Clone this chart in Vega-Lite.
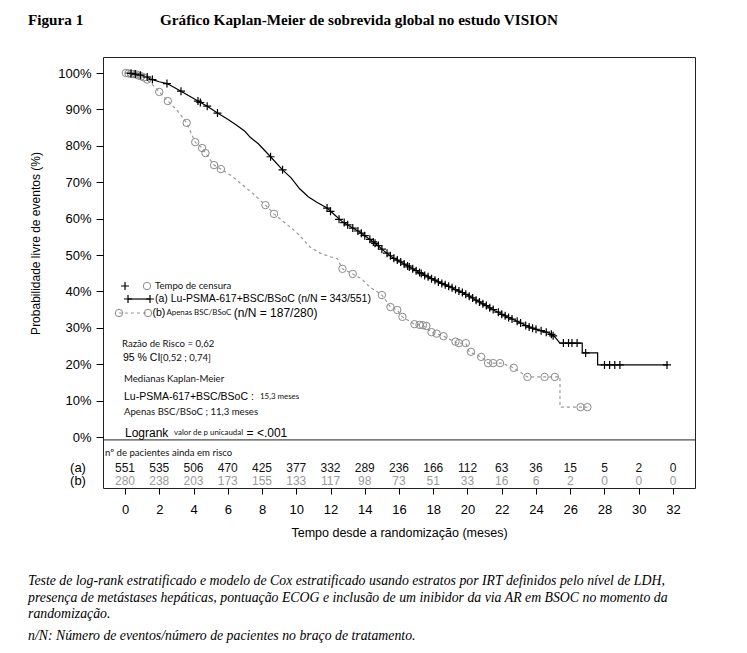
{
  "$schema": "https://vega.github.io/schema/vega-lite/v6.json",
  "width": 592,
  "height": 431,
  "autosize": {"type": "none"},
  "padding": {"left": 103, "top": 57, "right": 52, "bottom": 165},
  "background": "#ffffff",
  "config": {
    "view": {"stroke": "#222222", "strokeWidth": 1},
    "axis": {"grid": false, "domain": false, "tickColor": "#000000", "labelColor": "#000000", "titleColor": "#000000", "labelFont": "Liberation Sans", "titleFont": "Liberation Sans", "titleFontWeight": "normal", "labelOverlap": false},
    "text": {"align": "left", "baseline": "middle"}
  },
  "datasets": {
    "km_a": [
      {"i":1,"x":0,"y":1.0},{"i":2,"x":0.3,"y":0.999},{"i":3,"x":0.8,"y":0.995},{"i":4,"x":1.2,"y":0.99},{"i":5,"x":1.6,"y":0.982},{"i":6,"x":2.0,"y":0.976},{"i":7,"x":2.45,"y":0.971},{"i":8,"x":2.8,"y":0.962},{"i":9,"x":3.27,"y":0.95},{"i":10,"x":3.7,"y":0.938},{"i":11,"x":4.26,"y":0.923},{"i":12,"x":4.8,"y":0.909},{"i":13,"x":5.4,"y":0.89},{"i":14,"x":6.0,"y":0.873},{"i":15,"x":6.5,"y":0.857},{"i":16,"x":7.0,"y":0.84},{"i":17,"x":7.3,"y":0.824},{"i":18,"x":7.8,"y":0.805},{"i":19,"x":8.5,"y":0.77},{"i":20,"x":9.2,"y":0.734},{"i":21,"x":9.7,"y":0.712},{"i":22,"x":10.2,"y":0.682},{"i":23,"x":10.7,"y":0.66},{"i":24,"x":11.2,"y":0.645},{"i":25,"x":11.8,"y":0.629},{"i":26,"x":12.2,"y":0.612},{"i":27,"x":12.7,"y":0.591},{"i":28,"x":13.2,"y":0.577},{"i":29,"x":13.7,"y":0.563},{"i":30,"x":14.2,"y":0.546},{"i":31,"x":14.7,"y":0.529},{"i":32,"x":15.1,"y":0.512},{"i":33,"x":15.6,"y":0.494},{"i":34,"x":16.2,"y":0.478},{"i":35,"x":16.8,"y":0.462},{"i":36,"x":17.4,"y":0.447},{"i":37,"x":18.0,"y":0.433},{"i":38,"x":18.5,"y":0.422},{"i":39,"x":19.0,"y":0.412},{"i":40,"x":19.5,"y":0.401},{"i":41,"x":20.0,"y":0.39},{"i":42,"x":20.5,"y":0.376},{"i":43,"x":21.1,"y":0.361},{"i":44,"x":21.6,"y":0.347},{"i":45,"x":22.1,"y":0.335},{"i":46,"x":22.7,"y":0.322},{"i":47,"x":23.2,"y":0.311},{"i":48,"x":23.7,"y":0.3},{"i":49,"x":24.2,"y":0.293},{"i":50,"x":24.8,"y":0.285},{"i":51,"x":25.1,"y":0.275},{"i":52,"x":25.4,"y":0.258},{"i":53,"x":26.7,"y":0.258},{"i":54,"x":26.7,"y":0.231},{"i":55,"x":27.6,"y":0.231},{"i":56,"x":27.6,"y":0.198},{"i":57,"x":31.7,"y":0.198}
    ],
    "km_b": [
      {"i":1,"x":0,"y":1.0},{"i":2,"x":0.4,"y":0.997},{"i":3,"x":0.8,"y":0.993},{"i":4,"x":1.2,"y":0.985},{"i":5,"x":1.6,"y":0.968},{"i":6,"x":2.0,"y":0.948},{"i":7,"x":2.5,"y":0.923},{"i":8,"x":3.0,"y":0.9},{"i":9,"x":3.6,"y":0.863},{"i":10,"x":4.1,"y":0.81},{"i":11,"x":4.5,"y":0.794},{"i":12,"x":4.7,"y":0.78},{"i":13,"x":5.2,"y":0.747},{"i":14,"x":5.6,"y":0.736},{"i":15,"x":6.2,"y":0.718},{"i":16,"x":6.8,"y":0.695},{"i":17,"x":7.4,"y":0.672},{"i":18,"x":8.2,"y":0.637},{"i":19,"x":8.7,"y":0.613},{"i":20,"x":9.3,"y":0.59},{"i":21,"x":10.0,"y":0.563},{"i":22,"x":10.8,"y":0.522},{"i":23,"x":11.4,"y":0.505},{"i":24,"x":12.0,"y":0.495},{"i":25,"x":12.4,"y":0.49},{"i":26,"x":12.7,"y":0.462},{"i":27,"x":13.3,"y":0.448},{"i":28,"x":13.8,"y":0.435},{"i":29,"x":14.3,"y":0.412},{"i":30,"x":15.0,"y":0.39},{"i":31,"x":15.5,"y":0.357},{"i":32,"x":15.9,"y":0.349},{"i":33,"x":16.2,"y":0.33},{"i":34,"x":16.9,"y":0.31},{"i":35,"x":17.4,"y":0.307},{"i":36,"x":17.9,"y":0.288},{"i":37,"x":18.6,"y":0.277},{"i":38,"x":19.4,"y":0.258},{"i":39,"x":19.9,"y":0.258},{"i":40,"x":20.1,"y":0.234},{"i":41,"x":20.8,"y":0.22},{"i":42,"x":21.2,"y":0.203},{"i":43,"x":22.0,"y":0.203},{"i":44,"x":22.7,"y":0.19},{"i":45,"x":23.5,"y":0.165},{"i":46,"x":25.4,"y":0.165},{"i":47,"x":25.4,"y":0.082},{"i":48,"x":27.0,"y":0.082}
    ],
    "cens_a": [
      {"x":0.35,"y":0.999},{"x":0.6,"y":0.997},{"x":0.9,"y":0.994},{"x":1.3,"y":0.989},{"x":1.6,"y":0.982},{"x":2.45,"y":0.971},{"x":3.27,"y":0.95},{"x":4.26,"y":0.923},{"x":4.4,"y":0.919},{"x":4.8,"y":0.909},{"x":5.4,"y":0.89},{"x":8.5,"y":0.77},{"x":9.2,"y":0.734},{"x":11.8,"y":0.629},{"x":12.0,"y":0.62},
      {"x":12.5,"y":0.598},{"x":12.8,"y":0.589},{"x":13.0,"y":0.583},{"x":13.3,"y":0.574},{"x":13.6,"y":0.566},{"x":13.8,"y":0.56},{"x":14.0,"y":0.553},{"x":14.3,"y":0.543},{"x":14.5,"y":0.536},{"x":14.6,"y":0.532},{"x":14.8,"y":0.526},{"x":15.0,"y":0.516},{"x":15.3,"y":0.505},{"x":15.5,"y":0.498},{"x":15.7,"y":0.491},{"x":15.9,"y":0.486},{"x":16.1,"y":0.481},{"x":16.3,"y":0.475},{"x":16.5,"y":0.47},{"x":16.6,"y":0.467},{"x":16.8,"y":0.462},{"x":17.0,"y":0.457},{"x":17.2,"y":0.452},{"x":17.3,"y":0.449},{"x":17.5,"y":0.444},{"x":17.7,"y":0.44},{"x":17.9,"y":0.435},{"x":18.1,"y":0.431},{"x":18.3,"y":0.426},{"x":18.5,"y":0.422},{"x":18.7,"y":0.418},{"x":18.9,"y":0.414},{"x":19.1,"y":0.41},{"x":19.3,"y":0.405},{"x":19.5,"y":0.401},{"x":19.7,"y":0.397},{"x":19.9,"y":0.392},{"x":20.1,"y":0.387},{"x":20.3,"y":0.382},{"x":20.5,"y":0.376},{"x":20.7,"y":0.371},{"x":20.9,"y":0.366},{"x":21.1,"y":0.361},{"x":21.3,"y":0.355},{"x":21.5,"y":0.35},{"x":21.8,"y":0.343},{"x":22.0,"y":0.337},{"x":22.2,"y":0.333},{"x":22.4,"y":0.328},{"x":22.6,"y":0.324},{"x":22.9,"y":0.318},{"x":23.1,"y":0.313},{"x":23.4,"y":0.306},{"x":23.6,"y":0.302},{"x":23.8,"y":0.299},{"x":24.0,"y":0.296},{"x":24.3,"y":0.292},{"x":24.6,"y":0.288},{"x":24.9,"y":0.282},{"x":25.0,"y":0.278},{"x":25.6,"y":0.258},{"x":25.9,"y":0.258},{"x":26.1,"y":0.258},{"x":26.4,"y":0.258},{"x":26.9,"y":0.231},{"x":28.0,"y":0.198},{"x":28.3,"y":0.198},{"x":28.6,"y":0.198},{"x":28.9,"y":0.198},{"x":31.65,"y":0.198}
    ],
    "cens_b": [
      {"x":0.05,"y":1.0},{"x":0.2,"y":0.999},{"x":0.35,"y":0.998},{"x":0.5,"y":0.997},{"x":0.65,"y":0.996},{"x":0.8,"y":0.993},{"x":0.95,"y":0.991},{"x":1.1,"y":0.988},{"x":1.3,"y":0.982},{"x":2.0,"y":0.948},{"x":2.5,"y":0.923},{"x":3.6,"y":0.863},{"x":4.1,"y":0.81},{"x":4.5,"y":0.794},{"x":4.7,"y":0.78},{"x":5.2,"y":0.747},{"x":5.6,"y":0.736},{"x":8.2,"y":0.637},{"x":8.7,"y":0.613},{"x":12.7,"y":0.462},{"x":13.3,"y":0.448},{"x":15.0,"y":0.39},{"x":15.5,"y":0.357},{"x":15.9,"y":0.349},{"x":16.2,"y":0.33},{"x":16.9,"y":0.31},{"x":17.2,"y":0.308},{"x":17.4,"y":0.307},{"x":17.6,"y":0.305},{"x":17.9,"y":0.288},{"x":18.2,"y":0.284},{"x":18.6,"y":0.277},{"x":19.3,"y":0.262},{"x":19.5,"y":0.258},{"x":19.9,"y":0.258},{"x":20.2,"y":0.234},{"x":20.8,"y":0.22},{"x":21.2,"y":0.203},{"x":21.5,"y":0.203},{"x":21.9,"y":0.203},{"x":22.7,"y":0.19},{"x":23.5,"y":0.165},{"x":24.5,"y":0.165},{"x":25.1,"y":0.165},{"x":26.6,"y":0.082},{"x":27.0,"y":0.082}
    ],
    "leg_plus": [{"x":0.0,"y":0.4148},{"x":0.175,"y":0.3791},{"x":1.46,"y":0.3791}],
    "leg_circ": [{"x":1.285,"y":0.4148},{"x":-0.35,"y":0.3407},{"x":1.343,"y":0.3407}],
    "leg_line_a": [{"i":1,"x":0.175,"y":0.3791},{"i":2,"x":1.46,"y":0.3791}],
    "leg_line_b": [{"i":1,"x":-0.35,"y":0.3407},{"i":2,"x":1.343,"y":0.3407}],
    "sep": [{"y":-0.008}],
    "risk": [
      {"x":0,"a":551,"b":280},{"x":2,"a":535,"b":238},{"x":4,"a":506,"b":203},{"x":6,"a":470,"b":173},{"x":8,"a":425,"b":155},{"x":10,"a":377,"b":133},{"x":12,"a":332,"b":117},{"x":14,"a":289,"b":98},{"x":16,"a":236,"b":73},{"x":18,"a":166,"b":51},{"x":20,"a":112,"b":33},{"x":22,"a":63,"b":16},{"x":24,"a":36,"b":6},{"x":26,"a":15,"b":2},{"x":28,"a":5,"b":0},{"x":30,"a":2,"b":0},{"x":32,"a":0,"b":0}
    ],
    "risk_lab": [{"x":-2.745,"y":-0.084,"txt":"(a)"},{"x":-2.745,"y":-0.122,"txt":"(b)"}],
    "title_txt": [
      {"x":-5.664,"y":1.1456,"txt":"Figura 1"},
      {"x":2.044,"y":1.1456,"txt":"Gráfico Kaplan-Meier de sobrevida global no estudo VISION"}
    ],
    "foot_txt": [
      {"x":-5.664,"y":-0.3956,"txt":"Teste de log-rank estratificado e modelo de Cox estratificado usando estratos por IRT definidos pelo nível de LDH,"},
      {"x":-5.664,"y":-0.4423,"txt":"presença de metástases hepáticas, pontuação ECOG e inclusão de um inibidor da via AR em BSOC no momento da"},
      {"x":-5.664,"y":-0.4863,"txt":"randomização."},
      {"x":-5.664,"y":-0.5467,"txt":"n/N: Número de eventos/número de pacientes no braço de tratamento."}
    ],
    "arial_txt": [
      {"x":1.752,"y":0.3791,"txt":"(a) Lu-PSMA-617+BSC/BSoC (n/N = 343/551)"},
      {"x":1.6,"y":0.3407,"txt":"(b)"},
      {"x":-0.117,"y":0.217,"txt":"95 % CI"},
      {"x":-0.058,"y":0.1099,"txt":"Lu-PSMA-617+BSC/BSoC :"}
    ],
    "arial_big_txt": [
      {"x":6.35,"y":0.3407,"txt":"(n/N = 187/280)"},
      {"x":0.0,"y":0.011,"txt":"Logrank"},
      {"x":7.1,"y":0.011,"txt":"= <.001"}
    ],
    "cal_txt": [
      {"x":1.752,"y":0.4148,"txt":"Tempo de censura"},
      {"x":-0.175,"y":0.2555,"txt":"Razão de Risco  = 0,62"},
      {"x":2.044,"y":0.217,"txt":"[0,52 ; 0,74]"},
      {"x":-0.058,"y":0.1593,"txt":"Medianas Kaplan-Meier"},
      {"x":-0.058,"y":0.0687,"txt":"Apenas BSC/BSoC ; 11,3  meses"},
      {"x":-1.168,"y":-0.044,"txt":"nº de pacientes ainda em risco"}
    ],
    "cal_small_txt": [
      {"x":2.42,"y":0.3407,"txt":"Apenas BSC/BSoC"},
      {"x":7.883,"y":0.1099,"txt":"15,3  meses"},
      {"x":2.861,"y":0.011,"txt":"valor de p unicaudal"}
    ]
  },
  "layer": [
    {
      "data": {"name": "km_a"},
      "mark": {"type": "line", "color": "#000000", "strokeWidth": 1.2, "interpolate": "linear"},
      "encoding": {
        "x": {"field": "x", "type": "quantitative", "scale": {"domain": [-1.285, 33.285], "nice": false, "zero": false}, "title": "Tempo desde a randomização (meses)", "axis": {"values": [0,2,4,6,8,10,12,14,16,18,20,22,24,26,28,30,32], "tickCount": 17, "format": "d", "labelFontSize": 13, "tickSize": 6, "labelPadding": 9, "titleFontSize": 12.5, "titlePadding": 10, "labelOverlap": false, "labelFlush": false}},
        "y": {"field": "y", "type": "quantitative", "scale": {"domain": [-0.1401, 1.044], "nice": false, "zero": false}, "title": "Probabilidade livre de eventos (%)", "axis": {"values": [0,0.1,0.2,0.3,0.4,0.5,0.6,0.7,0.8,0.9,1.0], "format": ".0%", "labelFontSize": 13, "tickSize": 7, "labelPadding": 5, "titleFontSize": 12, "titleX": -68, "titleY": 186, "titleBaseline": "middle", "titleAngle": -90, "labelOverlap": false}},
        "order": {"field": "i", "type": "quantitative"}
      }
    },
    {
      "data": {"name": "sep"},
      "mark": {"type": "rule", "color": "#222222", "strokeWidth": 1},
      "encoding": {
        "y": {"field": "y", "type": "quantitative", "scale": {"domain": [-0.1401, 1.044], "nice": false, "zero": false}, "title": "Probabilidade livre de eventos (%)"}
      }
    },
    {
      "data": {"name": "km_b"},
      "mark": {"type": "line", "color": "#9a9a9a", "strokeWidth": 1.2, "strokeDash": [3, 3], "interpolate": "linear"},
      "encoding": {
        "x": {"field": "x", "type": "quantitative", "scale": {"domain": [-1.285, 33.285], "nice": false, "zero": false}, "title": "Tempo desde a randomização (meses)"},
        "y": {"field": "y", "type": "quantitative", "scale": {"domain": [-0.1401, 1.044], "nice": false, "zero": false}, "title": "Probabilidade livre de eventos (%)"},
        "order": {"field": "i", "type": "quantitative"}
      }
    },
    {
      "data": {"name": "leg_line_a"},
      "mark": {"type": "line", "color": "#000000", "strokeWidth": 1.2},
      "encoding": {
        "x": {"field": "x", "type": "quantitative", "scale": {"domain": [-1.285, 33.285], "nice": false, "zero": false}, "title": "Tempo desde a randomização (meses)"},
        "y": {"field": "y", "type": "quantitative", "scale": {"domain": [-0.1401, 1.044], "nice": false, "zero": false}, "title": "Probabilidade livre de eventos (%)"},
        "order": {"field": "i", "type": "quantitative"}
      }
    },
    {
      "data": {"name": "leg_line_b"},
      "mark": {"type": "line", "color": "#9a9a9a", "strokeWidth": 1.2, "strokeDash": [3, 3]},
      "encoding": {
        "x": {"field": "x", "type": "quantitative", "scale": {"domain": [-1.285, 33.285], "nice": false, "zero": false}, "title": "Tempo desde a randomização (meses)"},
        "y": {"field": "y", "type": "quantitative", "scale": {"domain": [-0.1401, 1.044], "nice": false, "zero": false}, "title": "Probabilidade livre de eventos (%)"},
        "order": {"field": "i", "type": "quantitative"}
      }
    },
    {
      "data": {"name": "cens_b"},
      "mark": {"type": "point", "shape": "circle", "filled": false, "stroke": "#8a8a8a", "strokeWidth": 1, "size": 55, "opacity": 1},
      "encoding": {
        "x": {"field": "x", "type": "quantitative", "scale": {"domain": [-1.285, 33.285], "nice": false, "zero": false}, "title": "Tempo desde a randomização (meses)"},
        "y": {"field": "y", "type": "quantitative", "scale": {"domain": [-0.1401, 1.044], "nice": false, "zero": false}, "title": "Probabilidade livre de eventos (%)"}
      }
    },
    {
      "data": {"name": "leg_circ"},
      "mark": {"type": "point", "shape": "circle", "filled": false, "stroke": "#8a8a8a", "strokeWidth": 1, "size": 55, "opacity": 1},
      "encoding": {
        "x": {"field": "x", "type": "quantitative", "scale": {"domain": [-1.285, 33.285], "nice": false, "zero": false}, "title": "Tempo desde a randomização (meses)"},
        "y": {"field": "y", "type": "quantitative", "scale": {"domain": [-0.1401, 1.044], "nice": false, "zero": false}, "title": "Probabilidade livre de eventos (%)"}
      }
    },
    {
      "data": {"name": "cens_a"},
      "mark": {"type": "point", "shape": "M-1,0H1M0,-1V1", "filled": false, "stroke": "#000000", "strokeWidth": 1.2, "size": 64, "opacity": 1},
      "encoding": {
        "x": {"field": "x", "type": "quantitative", "scale": {"domain": [-1.285, 33.285], "nice": false, "zero": false}, "title": "Tempo desde a randomização (meses)"},
        "y": {"field": "y", "type": "quantitative", "scale": {"domain": [-0.1401, 1.044], "nice": false, "zero": false}, "title": "Probabilidade livre de eventos (%)"}
      }
    },
    {
      "data": {"name": "leg_plus"},
      "mark": {"type": "point", "shape": "M-1,0H1M0,-1V1", "filled": false, "stroke": "#000000", "strokeWidth": 1.2, "size": 64, "opacity": 1},
      "encoding": {
        "x": {"field": "x", "type": "quantitative", "scale": {"domain": [-1.285, 33.285], "nice": false, "zero": false}, "title": "Tempo desde a randomização (meses)"},
        "y": {"field": "y", "type": "quantitative", "scale": {"domain": [-0.1401, 1.044], "nice": false, "zero": false}, "title": "Probabilidade livre de eventos (%)"}
      }
    },
    {
      "data": {"name": "risk"},
      "mark": {"type": "text", "align": "center", "font": "Liberation Sans Narrow, Liberation Sans", "fontSize": 12, "color": "#111111"},
      "encoding": {
        "x": {"field": "x", "type": "quantitative", "scale": {"domain": [-1.285, 33.285], "nice": false, "zero": false}, "title": "Tempo desde a randomização (meses)"},
        "y": {"datum": -0.084, "scale": {"domain": [-0.1401, 1.044], "nice": false, "zero": false}, "title": "Probabilidade livre de eventos (%)"},
        "text": {"field": "a", "type": "quantitative"}
      }
    },
    {
      "data": {"name": "risk"},
      "mark": {"type": "text", "align": "center", "font": "Liberation Sans Narrow, Liberation Sans", "fontSize": 12, "color": "#9a9a9a"},
      "encoding": {
        "x": {"field": "x", "type": "quantitative", "scale": {"domain": [-1.285, 33.285], "nice": false, "zero": false}, "title": "Tempo desde a randomização (meses)"},
        "y": {"datum": -0.122, "scale": {"domain": [-0.1401, 1.044], "nice": false, "zero": false}, "title": "Probabilidade livre de eventos (%)"},
        "text": {"field": "b", "type": "quantitative"}
      }
    },
    {
      "data": {"name": "risk_lab"},
      "mark": {"type": "text", "align": "center", "font": "Liberation Sans", "fontSize": 13, "color": "#000000"},
      "encoding": {
        "x": {"field": "x", "type": "quantitative", "scale": {"domain": [-1.285, 33.285], "nice": false, "zero": false}, "title": "Tempo desde a randomização (meses)"},
        "y": {"field": "y", "type": "quantitative", "scale": {"domain": [-0.1401, 1.044], "nice": false, "zero": false}, "title": "Probabilidade livre de eventos (%)"},
        "text": {"field": "txt", "type": "nominal"}
      }
    },
    {
      "data": {"name": "arial_txt"},
      "mark": {"type": "text", "font": "Liberation Sans", "fontSize": 10.5, "color": "#000000"},
      "encoding": {
        "x": {"field": "x", "type": "quantitative", "scale": {"domain": [-1.285, 33.285], "nice": false, "zero": false}, "title": "Tempo desde a randomização (meses)"},
        "y": {"field": "y", "type": "quantitative", "scale": {"domain": [-0.1401, 1.044], "nice": false, "zero": false}, "title": "Probabilidade livre de eventos (%)"},
        "text": {"field": "txt", "type": "nominal"}
      }
    },
    {
      "data": {"name": "arial_big_txt"},
      "mark": {"type": "text", "font": "Liberation Sans", "fontSize": 12, "color": "#000000"},
      "encoding": {
        "x": {"field": "x", "type": "quantitative", "scale": {"domain": [-1.285, 33.285], "nice": false, "zero": false}, "title": "Tempo desde a randomização (meses)"},
        "y": {"field": "y", "type": "quantitative", "scale": {"domain": [-0.1401, 1.044], "nice": false, "zero": false}, "title": "Probabilidade livre de eventos (%)"},
        "text": {"field": "txt", "type": "nominal"}
      }
    },
    {
      "data": {"name": "cal_txt"},
      "mark": {"type": "text", "font": "Lato", "fontSize": 9.6, "color": "#111111"},
      "encoding": {
        "x": {"field": "x", "type": "quantitative", "scale": {"domain": [-1.285, 33.285], "nice": false, "zero": false}, "title": "Tempo desde a randomização (meses)"},
        "y": {"field": "y", "type": "quantitative", "scale": {"domain": [-0.1401, 1.044], "nice": false, "zero": false}, "title": "Probabilidade livre de eventos (%)"},
        "text": {"field": "txt", "type": "nominal"}
      }
    },
    {
      "data": {"name": "cal_small_txt"},
      "mark": {"type": "text", "font": "Lato", "fontSize": 7.9, "color": "#111111"},
      "encoding": {
        "x": {"field": "x", "type": "quantitative", "scale": {"domain": [-1.285, 33.285], "nice": false, "zero": false}, "title": "Tempo desde a randomização (meses)"},
        "y": {"field": "y", "type": "quantitative", "scale": {"domain": [-0.1401, 1.044], "nice": false, "zero": false}, "title": "Probabilidade livre de eventos (%)"},
        "text": {"field": "txt", "type": "nominal"}
      }
    },
    {
      "data": {"name": "title_txt"},
      "mark": {"type": "text", "font": "Liberation Serif", "fontWeight": "bold", "fontSize": 15.2, "color": "#000000"},
      "encoding": {
        "x": {"field": "x", "type": "quantitative", "scale": {"domain": [-1.285, 33.285], "nice": false, "zero": false}, "title": "Tempo desde a randomização (meses)"},
        "y": {"field": "y", "type": "quantitative", "scale": {"domain": [-0.1401, 1.044], "nice": false, "zero": false}, "title": "Probabilidade livre de eventos (%)"},
        "text": {"field": "txt", "type": "nominal"}
      }
    },
    {
      "data": {"name": "foot_txt"},
      "mark": {"type": "text", "font": "Liberation Serif", "fontStyle": "italic", "fontSize": 13.8, "color": "#000000"},
      "encoding": {
        "x": {"field": "x", "type": "quantitative", "scale": {"domain": [-1.285, 33.285], "nice": false, "zero": false}, "title": "Tempo desde a randomização (meses)"},
        "y": {"field": "y", "type": "quantitative", "scale": {"domain": [-0.1401, 1.044], "nice": false, "zero": false}, "title": "Probabilidade livre de eventos (%)"},
        "text": {"field": "txt", "type": "nominal"}
      }
    }
  ]
}
